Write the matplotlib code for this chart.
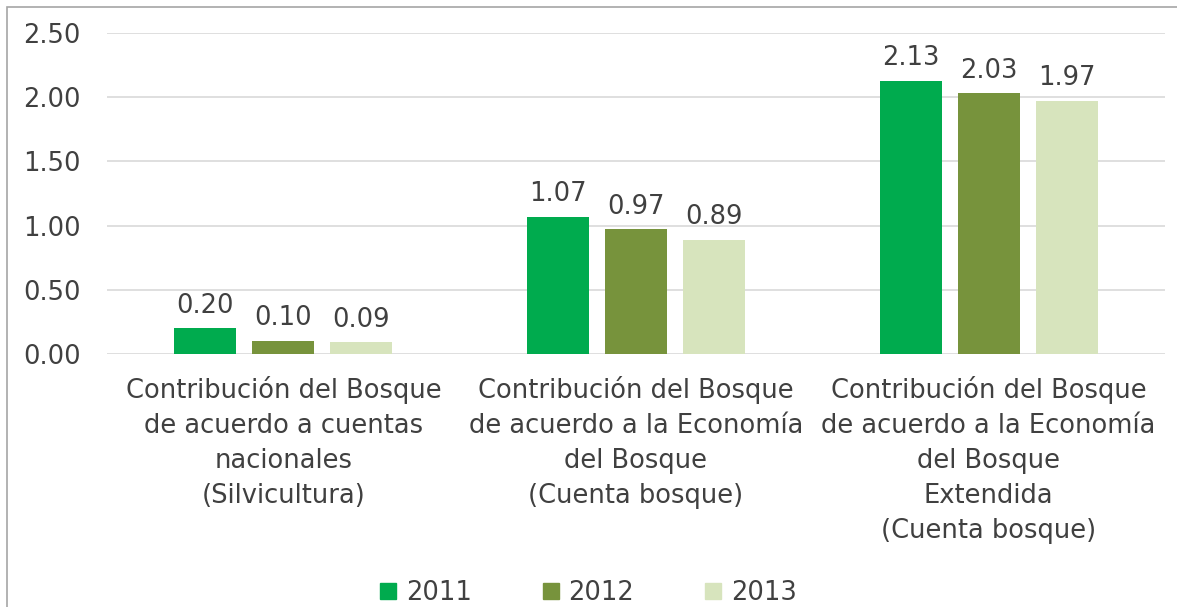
import matplotlib
matplotlib.use('Agg')
import matplotlib.pyplot as plt
from matplotlib.lines import Line2D
from matplotlib.patches import Rectangle
import numpy as np

categorias = [
    "Contribución del Bosque\nde acuerdo a cuentas\nnacionales\n(Silvicultura)",
    "Contribución del Bosque\nde acuerdo a la Economía\ndel Bosque\n(Cuenta bosque)",
    "Contribución del Bosque\nde acuerdo a la Economía\ndel Bosque\nExtendida\n(Cuenta bosque)",
]
anios = ["2011", "2012", "2013"]
v2011 = [0.20, 1.07, 2.13]
v2012 = [0.10, 0.97, 2.03]
v2013 = [0.09, 0.89, 1.97]
colores = ["#00AB4E", "#77933C", "#D7E4BD"]

plt.rcParams['font.family'] = ['DejaVu Sans']
gris = "#404040"
fs = 18.5

fig = plt.figure(figsize=(11.77, 6.07), dpi=100)
# marco exterior
fig.patches.append(Rectangle((7/1177, -0.1), 1.2, 1.1 - 7/607, transform=fig.transFigure,
                             fill=False, edgecolor="#A6A6A6", linewidth=1.2))

ax = fig.add_axes([107/1177, 1 - 354/607, (1165 - 107)/1177, (354 - 33)/607])

x = np.arange(len(categorias))
ancho = 0.176
paso = 0.221
series = [v2011, v2012, v2013]
for i, vals in enumerate(series):
    barras = ax.bar(x + (i - 1)*paso, vals, ancho, color=colores[i], zorder=3, label=anios[i])
    for b, v in zip(barras, vals):
        ax.annotate("%.2f" % v, (b.get_x() + b.get_width()/2, v), xytext=(0, 7),
                    textcoords='offset points', ha='center', va='bottom',
                    fontsize=fs, color=gris)

ax.set_xlim(-0.5, 2.5)
ax.set_ylim(0, 2.5)
ax.set_yticks(np.arange(0, 2.51, 0.5))
ax.set_yticklabels(["%.2f" % t for t in np.arange(0, 2.51, 0.5)])
ax.set_xticks(x)
ax.set_xticklabels(categorias, linespacing=1.45)
ax.tick_params(axis='both', length=0, labelsize=fs, labelcolor=gris)
ax.tick_params(axis='y', pad=19)
ax.tick_params(axis='x', pad=16)
ax.grid(axis='y', color="#D9D9D9", linewidth=1.2, zorder=0)
for s in ax.spines.values():
    s.set_visible(False)

handles = [Line2D([], [], marker='s', linestyle='', markersize=11, color=c) for c in colores]
fig.legend(handles, anios, loc='center', bbox_to_anchor=(586/1177, 1 - 593/607), ncol=3,
           frameon=False, fontsize=fs, labelcolor=gris, handletextpad=0.2,
           columnspacing=2.55, handlelength=1.0)

fig.savefig("out.png", dpi=100)
